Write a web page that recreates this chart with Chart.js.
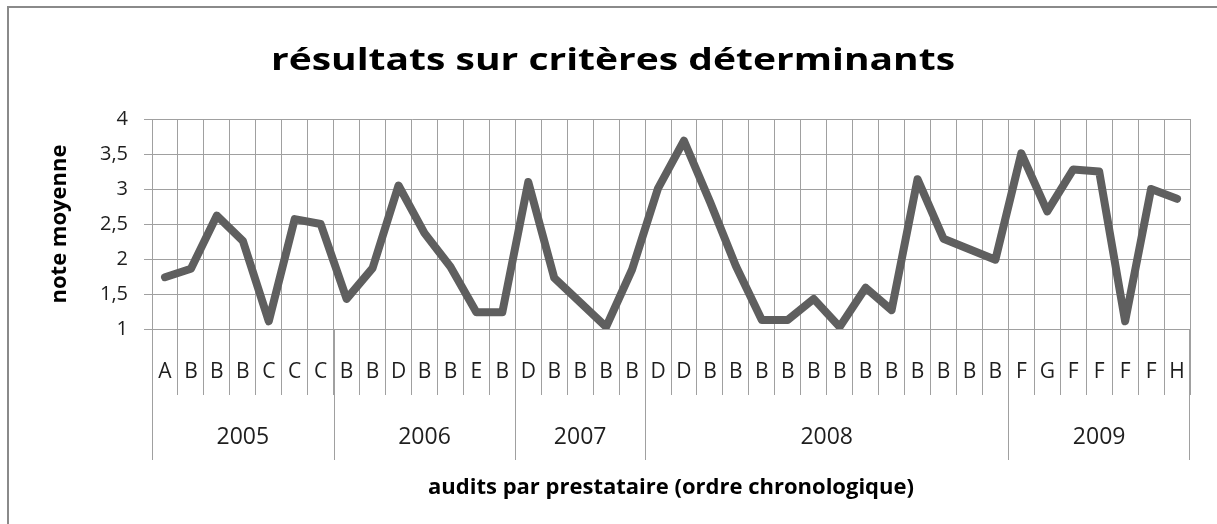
<!DOCTYPE html>
<html>
<head>
<meta charset="utf-8">
<script src="https://cdn.jsdelivr.net/npm/chart.js@4"></script>
<style>
  html, body { margin: 0; padding: 0; background: #fff; overflow: hidden; }
  #wrap { width: 1217px; height: 524px; position: relative; }
</style>
</head>
<body>
<div id="wrap"><canvas id="c" width="1217" height="524"></canvas></div>
<script>
// ---- data ----
const categories = [
  'A','B','B','B','C','C','C',
  'B','B','D','B','B','E','B',
  'D','B','B','B','B',
  'D','D','B','B','B','B','B','B','B','B','B','B','B','B',
  'F','G','F','F','F','F','H'
];
const years = ['2005','2006','2007','2008','2009'];
const yearCounts = [7, 7, 5, 14, 7];
const noteMoyenne = [
  1.74, 1.86, 2.62, 2.26, 1.11, 2.57, 2.50,
  1.43, 1.87, 3.05, 2.37, 1.89, 1.24, 1.24,
  3.10, 1.73, 1.38, 1.03, 1.85,
  3.01, 3.69, 2.82, 1.90, 1.13, 1.13, 1.43, 1.03, 1.59, 1.27, 3.14, 2.29, 2.14, 1.99,
  3.51, 2.68, 3.28, 3.25, 1.11, 3.00, 2.86
];
const yTicks = [1, 1.5, 2, 2.5, 3, 3.5, 4];
const yTickLabels = ['1', '1,5', '2', '2,5', '3', '3,5', '4'];
const chartTitle = 'résultats sur critères déterminants';
const yTitle = 'note moyenne';
const xTitle = 'audits par prestataire (ordre chronologique)';

const FONT = "'Open Sans', 'DejaVu Sans', sans-serif";
const GRID = '#a0a0a0';

const decorPlugin = {
  id: 'decor',
  beforeDraw(chart) {
    const ctx = chart.ctx;
    ctx.save();
    ctx.strokeStyle = '#8a8a8a';
    ctx.lineWidth = 2;
    ctx.beginPath();
    ctx.moveTo(8, 524);
    ctx.lineTo(8, 7);
    ctx.lineTo(1217, 7);
    ctx.stroke();
    ctx.restore();
  },
  afterDraw(chart) {
    const ctx = chart.ctx;
    const xs = chart.scales.x;
    const area = chart.chartArea;
    const half = (xs.getPixelForValue(1) - xs.getPixelForValue(0)) / 2;
    ctx.save();
    // chart title (horizontally widened like the original)
    ctx.fillStyle = '#000';
    ctx.textAlign = 'center';
    ctx.textBaseline = 'middle';
    ctx.font = "bold 30px " + FONT;
    ctx.save();
    ctx.translate(613, 61);
    ctx.scale(1.3, 1);
    ctx.fillText(chartTitle, 0, 0);
    ctx.restore();

    // category letters
    ctx.fillStyle = '#1e1e1e';
    ctx.font = "21px " + FONT;
    categories.forEach((c, i) => {
      ctx.fillText(c, xs.getPixelForValue(i), 372);
    });
    // year groups
    ctx.strokeStyle = GRID;
    ctx.lineWidth = 1;
    ctx.font = "23px " + FONT;
    let s = 0;
    years.forEach((y, k) => {
      const e = s + yearCounts[k] - 1;
      const left = xs.getPixelForValue(s) - half;
      const right = xs.getPixelForValue(e) + half;
      ctx.beginPath();
      ctx.moveTo(Math.round(left) + 0.5, area.bottom);
      ctx.lineTo(Math.round(left) + 0.5, 460);
      ctx.stroke();
      if (k === years.length - 1) {
        ctx.beginPath();
        ctx.moveTo(Math.round(right) - 0.5, area.bottom);
        ctx.lineTo(Math.round(right) - 0.5, 460);
        ctx.stroke();
      }
      ctx.fillText(y, (left + right) / 2, 437);
      s = e + 1;
    });
    ctx.restore();
  }
};

new Chart(document.getElementById('c'), {
  type: 'line',
  data: {
    labels: categories,
    datasets: [{
      label: yTitle,
      data: noteMoyenne,
      borderColor: '#5f5f5f',
      backgroundColor: '#5f5f5f',
      borderWidth: 8,
      tension: 0,
      pointRadius: 0,
      pointHoverRadius: 0,
      borderJoinStyle: 'round',
      borderCapStyle: 'round',
      fill: false
    }]
  },
  options: {
    responsive: false,
    animation: false,
    events: [],
    layout: { padding: { left: 0, right: 27, top: 119, bottom: 0 } },
    plugins: {
      legend: { display: false },
      tooltip: { enabled: false },
      title: { display: false }
    },
    scales: {
      x: {
        type: 'category',
        offset: true,
        grid: { display: true, offset: true, color: GRID, lineWidth: 1, drawTicks: true, tickLength: 66 },
        border: { display: true, color: GRID },
        ticks: { display: false, autoSkip: false },
        title: {
          display: true,
          text: xTitle,
          color: '#000',
          font: { family: FONT, size: 22, weight: 'bold' },
          padding: { top: 70, bottom: 23 }
        },
        afterFit(scale) { scale.height = 195; }
      },
      y: {
        min: 1,
        max: 4,
        grid: { color: GRID, lineWidth: 1, drawTicks: true, tickLength: 8 },
        border: { display: true, color: GRID },
        ticks: {
          stepSize: 0.5,
          padding: 16,
          color: '#1e1e1e',
          font: { family: FONT, size: 20 },
          callback: (v) => { const i = yTicks.indexOf(v); return i >= 0 ? yTickLabels[i] : ''; }
        },
        title: {
          display: true,
          text: yTitle,
          color: '#000',
          font: { family: FONT, size: 22, weight: 'bold' },
          padding: { top: 47, bottom: 0 }
        },
        afterFit(scale) { scale.width = 152; }
      }
    }
  },
  plugins: [decorPlugin]
});
</script>
</body>
</html>
